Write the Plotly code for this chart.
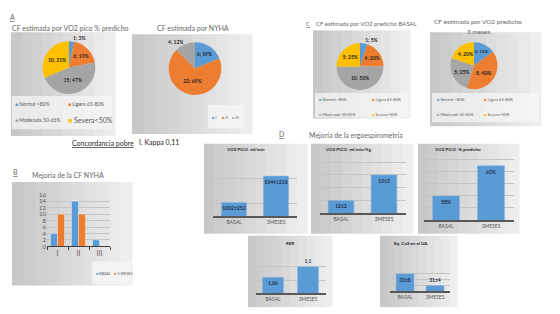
import plotly.graph_objects as go

W, H = 560, 314
FONT = "Lato"

# ---------------- data ----------------
cf_cats = ["Normal >80%", "Ligera 65-80%", "Moderada 50-65%", "Severa<50%"]
pie_colors = ["#5B9BD5", "#ED7D31", "#A5A5A5", "#FFC000"]

vo2pico_counts = [1, 6, 15, 10]
vo2pico_pct = [3, 19, 47, 31]

nyha_cats = ["I", "II", "III"]
nyha_counts = [6, 22, 4]
nyha_pct = [19, 69, 12]

basal_counts = [1, 4, 10, 5]
basal_pct = [5, 20, 50, 25]

meses3_counts = [3, 8, 5, 4]
meses3_pct = [15, 40, 25, 20]

nyha_classes = ["I", "II", "III"]
nyha_basal = [4, 14, 2]
nyha_3meses = [10, 10, 0]
nyha_series = ["BASAL", "3 MESES"]

ergo_cats = ["BASAL", "3MESES"]
vo2_mlmin = [1002, 1044]
vo2_mlmin_lbl = ["1002±252", "1044±210"]
vo2_mlkg = [12, 13]
vo2_mlkg_lbl = ["12±2", "13±3"]
vo2_pred = [58, 63]
vo2_pred_lbl = ["58%", "63%"]
rer = [1.06, 1.1]
rer_lbl = ["1,06", "1,1"]
eqco2 = [33, 31]
eqco2_lbl = ["33±8", "31±4"]

# ---------------- helpers ----------------
def fx(x):
    return x / W


def fy(y):
    return 1 - y / H


def dx(x0, x1):
    return [x0 / W, x1 / W]


def dy(top, bot):
    return [1 - bot / H, 1 - top / H]


fig = go.Figure()
shapes = []
annotations = []


def box(x0, y0, x1, y1, c_left=(200, 200, 200), c_right=(238, 238, 238), n=10):
    # simple left-to-right gradient made of strips
    w = (x1 - x0) / n
    for i in range(n):
        t = i / (n - 1)
        c = tuple(int(c_left[k] + (c_right[k] - c_left[k]) * t) for k in range(3))
        shapes.append(dict(type="rect", xref="paper", yref="paper",
                           x0=fx(x0 + i * w), x1=fx(x0 + (i + 1) * w + 0.5),
                           y0=fy(y1), y1=fy(y0), line=dict(width=0),
                           fillcolor="rgb(%d,%d,%d)" % c, layer="below"))


def lightbox(x0, y0, x1, y1):
    shapes.append(dict(type="rect", xref="paper", yref="paper",
                       x0=fx(x0), x1=fx(x1), y0=fy(y1), y1=fy(y0),
                       line=dict(width=0), fillcolor="rgba(245,245,245,0.75)",
                       layer="below"))


def text(x, y, s, size=7, color="#666666", anchor="center", bold=False, underline=False):
    if bold:
        s = "<b>%s</b>" % s
    if underline:
        s = "<u>%s</u>" % s
    annotations.append(dict(x=fx(x), y=fy(y), xref="paper", yref="paper", text=s,
                            showarrow=False, xanchor=anchor, yanchor="middle",
                            font=dict(family=FONT, size=size, color=color)))


def legend_items(names, colors, positions, sizes=None):
    for i, (nm, c) in enumerate(zip(names, colors)):
        x, y = positions[i]
        sz = sizes[i] if sizes else 5
        annotations.append(dict(x=fx(x), y=fy(y), xref="paper", yref="paper",
                                text="<span style='color:%s'>■</span> %s" % (c, nm),
                                showarrow=False, xanchor="left", yanchor="middle",
                                font=dict(family=FONT, size=sz, color="#595959")))


def add_pie(counts, pcts, labels, cx, cy, r, positions):
    txt = ["<b>%d; %d%%</b>" % (c, p) for c, p in zip(counts, pcts)]
    fig.add_trace(go.Pie(values=counts, labels=labels, text=txt, textinfo="text",
                         sort=False, direction="clockwise", rotation=0,
                         marker=dict(colors=pie_colors[:len(counts)], line=dict(width=0)),
                         domain=dict(x=dx(cx - r, cx + r), y=dy(cy - r, cy + r)),
                         textposition=positions, insidetextorientation="horizontal",
                         textfont=dict(family=FONT, size=5, color="#262626"),
                         showlegend=False, hoverinfo="label+value+percent"))


# ---------------- background panels ----------------
box(11, 29, 115, 135)      # A1
box(132, 31, 252, 133)     # A2
box(313, 27, 410, 117)     # C1
box(430, 29, 541, 125)     # C2
box(12, 182, 132, 288)     # B
box(204, 143, 307, 235)    # D1
box(311, 143, 413, 235)    # D2
box(418, 143, 519, 235)    # D3
box(248, 237, 332, 310)    # D4
box(380, 237, 457, 310)    # D5
lightbox(12, 94, 112, 128)
lightbox(208, 103, 244, 127)
lightbox(92, 263, 131, 287)
lightbox(315, 91, 408, 116)
lightbox(432, 91, 539, 121)

# ---------------- panel A ----------------
text(12, 13, "A", size=7, underline=True)
text(70, 25, "CF estimada por VO2 pico % predicho", size=7)
add_pie(vo2pico_counts, vo2pico_pct, cf_cats, 69, 65, 27,
        ["outside", "inside", "inside", "inside"])
legend_items(cf_cats, pie_colors, [(13, 102), (66, 102), (13, 119), (66, 119)],
             sizes=[5, 5, 5, 7])

text(193, 25, "CF estimada por NYHA", size=7)
add_pie(nyha_counts, nyha_pct, nyha_cats, 195, 66, 27,
        ["inside", "inside", "outside"])
legend_items(nyha_cats, pie_colors[:3], [(210, 116), (220, 116), (230, 116)], sizes=[4, 4, 4])

text(70, 142, "Concordancia pobre", size=7, color="#262626", anchor="left", underline=True)
text(137, 142, "I. Kappa 0,11", size=7, color="#262626", anchor="left")

# ---------------- panel C ----------------
text(308, 20, "C", size=6, underline=True)
text(366, 20, "CF estimada por VO2 predicho BASAL", size=6)
add_pie(basal_counts, basal_pct, cf_cats, 360, 64, 24,
        ["outside", "inside", "inside", "inside"])
legend_items(cf_cats, pie_colors, [(317, 98), (370, 98), (317, 113), (370, 113)],
             sizes=[4, 4, 4, 4])

text(478, 18, "CF estimada por VO2 predicho", size=6.5)
text(478, 28, "3 meses", size=6.5)
add_pie(meses3_counts, meses3_pct, cf_cats, 474, 63, 24,
        ["inside", "inside", "inside", "inside"])
legend_items(cf_cats, pie_colors, [(435, 98), (482, 98), (435, 113), (482, 113)],
             sizes=[4, 4, 4, 4])

# ---------------- panel B ----------------
text(15, 172, "B", size=7, underline=True)
text(30, 175, "Mejoría de la CF NYHA", size=7, anchor="left")
fig.add_trace(go.Bar(x=nyha_classes, y=nyha_basal, name=nyha_series[0],
                     marker_color=pie_colors[0], xaxis="x", yaxis="y", showlegend=False))
fig.add_trace(go.Bar(x=nyha_classes, y=nyha_3meses, name=nyha_series[1],
                     marker_color=pie_colors[1], xaxis="x", yaxis="y", showlegend=False))
legend_items(nyha_series, pie_colors[:2], [(94, 276), (112, 276)], sizes=[3.8, 3.8])

ytick_font = dict(family=FONT, size=6, color="#595959")
xtick_font = dict(family=FONT, size=7, color="#595959")
layout_axes = dict(
    xaxis=dict(domain=dx(47, 110), anchor="y", type="category", showline=True,
               linecolor="#404040", linewidth=1, ticks="outside", tickson="boundaries",
               ticklen=3, tickcolor="#404040", tickfont=xtick_font, showgrid=False,
               fixedrange=True),
    yaxis=dict(domain=dy(195, 248), anchor="x", range=[0, 16], dtick=2,
               showgrid=True, gridcolor="#c4c4c4", gridwidth=0.6, zeroline=False,
               tickfont=ytick_font, ticks="", fixedrange=True),
)

# ---------------- panel D ----------------
text(281, 133, "D", size=7, underline=True)
text(307, 134, "Mejoría de la ergoespirometría", size=7, anchor="left")

d_panels = [
    (vo2_mlmin, vo2_mlmin_lbl, ["inside", "inside"], (213, 297), 153, 217, [980, 1080], 40,
     "VO2 PICO  ml/min", (245, 149, "center")),
    (vo2_mlkg, vo2_mlkg_lbl, ["inside", "inside"], (319.5, 405.5), 154, 214, [11.5, 13.8], 0.5,
     "VO2 PICO  ml/min/Kg", (323, 149, "left")),
    (vo2_pred, vo2_pred_lbl, ["inside", "inside"], (423.5, 513.5), 150, 221, [54, 65.5], 2,
     "VO2 PICO  % predicho", (432, 149, "left")),
    (rer, rer_lbl, ["inside", "outside"], (255.5, 325.5), 255, 296, [1.0, 1.15], 0.05,
     "RER", (290, 245, "center")),
    (eqco2, eqco2_lbl, ["inside", "outside"], (390, 450), 270, 294, [30, 34], 1,
     "Eq. Co2 en el UA", (392, 245, "left")),
]

cat_font = dict(family=FONT, size=5, color="#595959")
for i, (vals, lbls, pos, (x0, x1), ytop, ybot, rng, dt, title, tpos) in enumerate(d_panels):
    n = i + 2
    xa, ya = "x%d" % n, "y%d" % n
    fig.add_trace(go.Bar(x=ergo_cats, y=vals, text=["<b>%s</b>" % s for s in lbls],
                         textposition=pos, insidetextanchor="end", constraintext="none",
                         textangle=0, cliponaxis=False, width=0.6,
                         textfont=dict(family=FONT, size=5, color="#1f2d4a"),
                         marker=dict(color=pie_colors[0], line=dict(color="#8fb8e0", width=0.5)),
                         xaxis=xa, yaxis=ya, showlegend=False))
    layout_axes["xaxis%d" % n] = dict(domain=dx(x0, x1), anchor=ya, type="category",
                                      showline=True, linecolor="#595959", linewidth=1.5,
                                      ticks="", tickfont=cat_font, showgrid=False,
                                      fixedrange=True)
    layout_axes["yaxis%d" % n] = dict(domain=dy(ytop, ybot), anchor=xa, range=rng, dtick=dt,
                                      tick0=0, showgrid=True, gridcolor="#c4c4c4",
                                      gridwidth=0.6, zeroline=False, showticklabels=False,
                                      ticks="", fixedrange=True)
    text(tpos[0], tpos[1], title, size=4.5, color="#262626", anchor=tpos[2], bold=True)

fig.update_layout(
    width=W, height=H, margin=dict(l=0, r=0, t=0, b=0),
    paper_bgcolor="white", plot_bgcolor="rgba(0,0,0,0)",
    barmode="group", bargap=0.33, bargroupgap=0,
    font=dict(family=FONT, size=6, color="#595959"),
    shapes=shapes, annotations=annotations, showlegend=False,
    **layout_axes,
)

fig.write_html("out.html", config={"displayModeBar": False},
               post_script="document.body.style.margin='0';document.body.style.overflow='hidden';")
